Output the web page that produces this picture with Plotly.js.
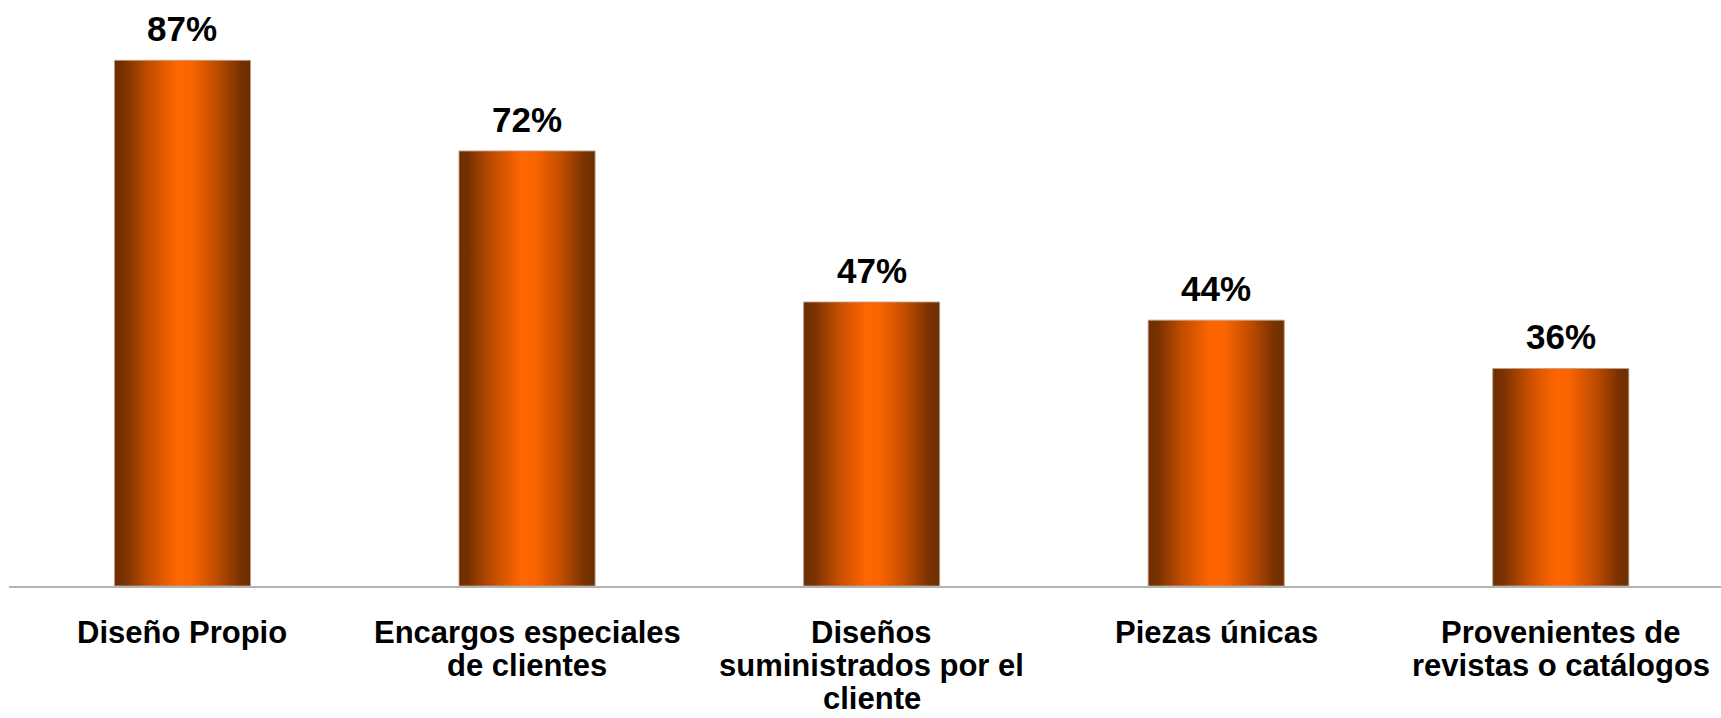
<!DOCTYPE html>
<html>
<head>
<meta charset="utf-8">
<script src="https://cdn.plot.ly/plotly-3.0.1.min.js"></script>
<style>
  html, body { margin: 0; padding: 0; background: #ffffff; }
  #chart { width: 1721px; height: 718px; }
</style>
</head>
<body>
<div id="chart"></div>
<script>
// ---- data ----
var categories = ["Diseño Propio", "Encargos especiales de clientes", "Diseños suministrados por el cliente", "Piezas únicas", "Provenientes de revistas o catálogos"];
var tickLines = [
  ["Diseño Propio"],
  ["Encargos especiales", "de clientes"],
  ["Diseños", "suministrados por el", "cliente"],
  ["Piezas únicas"],
  ["Provenientes de", "revistas o catálogos"]
];
var values = [87, 72, 47, 44, 36];

// ---- chart ----
var FONT = "Liberation Sans, Arial, Helvetica, sans-serif";

var barTrace = {
  type: "bar",
  x: categories,
  y: values,
  width: 0.395,
  marker: { color: "#ff6600", line: { color: "rgba(190,160,140,0.9)", width: 1 } },
  hoverinfo: "skip"
};

var annotations = [];
// value labels
categories.forEach(function (c, i) {
  annotations.push({
    x: c, xref: "x", y: values[i], yref: "y",
    yanchor: "bottom", xanchor: "center",
    text: values[i] + "%",
    showarrow: false, yshift: 10,
    font: { family: FONT, size: 35, color: "#000000", weight: "bold" }
  });
});
// category labels (one annotation per line, tight line spacing)
tickLines.forEach(function (lines, i) {
  lines.forEach(function (ln, j) {
    annotations.push({
      x: categories[i], xref: "x", y: 0, yref: "paper",
      yanchor: "top", xanchor: "center",
      text: ln, showarrow: false,
      yshift: -27 - j * 33,
      font: { family: FONT, size: 31, color: "#000000", weight: "bold" }
    });
  });
});

var layout = {
  width: 1721, height: 718,
  margin: { l: 9, r: 0, t: 12, b: 132 },
  paper_bgcolor: "#ffffff", plot_bgcolor: "#ffffff",
  showlegend: false,
  xaxis: {
    type: "category",
    range: [-0.5035, 4.465],
    showticklabels: false,
    ticks: "",
    showgrid: false,
    zeroline: false,
    showline: true, linecolor: "#b3b3b3", linewidth: 2
  },
  yaxis: {
    range: [0, 95],
    visible: false,
    showgrid: false, zeroline: false
  },
  annotations: annotations
};

Plotly.newPlot("chart", [barTrace], layout, { staticPlot: true }).then(function (gd) {
  var svg = gd.querySelector("svg.main-svg");
  var ns = "http://www.w3.org/2000/svg";
  var defs = document.createElementNS(ns, "defs");
  var grad = document.createElementNS(ns, "linearGradient");
  grad.setAttribute("id", "barGrad");
  grad.setAttribute("x1", "0"); grad.setAttribute("y1", "0");
  grad.setAttribute("x2", "1"); grad.setAttribute("y2", "0");
  var stops = [
    [0, "#6f2d00"], [0.07, "#773100"], [0.25, "#c24d00"], [0.46, "#ff6600"],
    [0.56, "#fb6500"], [0.75, "#c04c00"], [0.93, "#773100"], [1, "#6f2d00"]
  ];
  stops.forEach(function (s) {
    var st = document.createElementNS(ns, "stop");
    st.setAttribute("offset", s[0]);
    st.setAttribute("stop-color", s[1]);
    grad.appendChild(st);
  });
  defs.appendChild(grad);
  svg.insertBefore(defs, svg.firstChild);
  gd.querySelectorAll(".trace.bars .point path").forEach(function (p) {
    p.style.fill = "url(#barGrad)";
    p.style.fillOpacity = 1;
  });
});
</script>
</body>
</html>
